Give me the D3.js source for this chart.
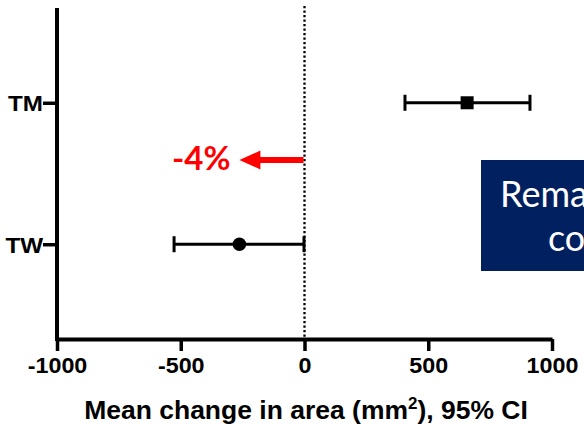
<!DOCTYPE html>
<html>
<head>
<meta charset="utf-8">
<script src="https://cdn.jsdelivr.net/npm/d3@7"></script>
<style>
  html, body { margin: 0; padding: 0; background: #fff; overflow: hidden; }
  svg { display: block; }
</style>
</head>
<body>
<svg id="chart" width="584" height="425"></svg>
<script>
// Groups and their mean change in area with 95% CI (mm²)
const groups = ["TM", "TW"];
const means = [657, -263];
const lowerCI = [406, -527];
const upperCI = [911, -2];
const markerShapes = ["square", "circle"];
const xTicks = [-1000, -500, 0, 500, 1000];
const xDomain = [-1000, 1000];
const changeLabel = "-4%";
const noteLines = ["Remained", "constant"];

const svg = d3.select("#chart");
const font = "'Liberation Sans', Arial, sans-serif";
const widen = 1.06; // slightly wider bold lettering for the axis text

const x = d3.scaleLinear().domain(xDomain).range([57, 552]);
const y = d3.scalePoint().domain(groups).range([8, 339]).padding(0.67);
const axisY = 339;

// Zero reference line
svg.append("line")
  .attr("x1", x(0)).attr("x2", x(0))
  .attr("y1", 6).attr("y2", axisY)
  .attr("stroke", "#000").attr("stroke-width", 2.3)
  .attr("stroke-dasharray", "2.3,2.2");

// X axis
const xAxis = svg.append("g")
  .attr("transform", `translate(0,${axisY})`)
  .call(d3.axisBottom(x).tickValues(xTicks).tickSize(12).tickSizeOuter(0).tickFormat(d3.format("d")));
xAxis.select(".domain").attr("stroke", "#000").attr("stroke-width", 4);
xAxis.selectAll(".tick line").attr("stroke", "#000").attr("stroke-width", 3.5);
xAxis.selectAll(".tick text")
  .attr("y", 0).attr("dy", 0)
  .attr("transform", `translate(0,34) scale(${widen},1)`)
  .style("font-family", font).style("font-weight", "bold").style("font-size", "22px")
  .attr("fill", "#000")
  .text(d => d < 0 ? "-" + Math.abs(d) : d);

// Y axis
const yAxis = svg.append("g")
  .attr("transform", `translate(${x(xDomain[0])},0)`)
  .call(d3.axisLeft(y).tickSize(14).tickSizeOuter(0));
yAxis.select(".domain").attr("stroke", "#000").attr("stroke-width", 4)
  .attr("d", `M0,8V${axisY + 2}`);
yAxis.selectAll(".tick line").attr("stroke", "#000").attr("stroke-width", 3.5);
yAxis.selectAll(".tick text")
  .attr("x", 0).attr("dy", "0.36em")
  .attr("transform", `translate(-14,0) scale(1.1,1)`)
  .style("font-family", font).style("font-weight", "bold").style("font-size", "22px")
  .attr("fill", "#000");

// Axis title
const title = svg.append("text")
  .attr("transform", `translate(306,419) scale(${widen},1)`)
  .attr("text-anchor", "middle")
  .style("font-family", font).style("font-weight", "bold").style("font-size", "25px")
  .attr("fill", "#000");
title.append("tspan").text("Mean change in area (mm");
title.append("tspan").text("2").attr("dy", -10).style("font-size", "16px");
title.append("tspan").text("), 95% CI").attr("dy", 10);

// Error bars and means
const rows = groups.map((g, i) => ({ g, mean: means[i], lo: lowerCI[i], hi: upperCI[i], shape: markerShapes[i] }));
const bars = svg.append("g").selectAll("g").data(rows).join("g")
  .attr("transform", d => `translate(0,${y(d.g)})`);
bars.append("line")
  .attr("x1", d => x(d.lo)).attr("x2", d => x(d.hi))
  .attr("stroke", "#000").attr("stroke-width", 3);
bars.selectAll("line.cap").data(d => [d.lo, d.hi]).join("line")
  .attr("class", "cap")
  .attr("x1", v => x(v)).attr("x2", v => x(v))
  .attr("y1", -8).attr("y2", 8)
  .attr("stroke", "#000").attr("stroke-width", 3);
bars.each(function(d) {
  const g = d3.select(this);
  if (d.shape === "square") {
    g.append("rect").attr("x", x(d.mean) - 6.5).attr("y", -6.5)
      .attr("width", 13).attr("height", 13).attr("fill", "#000");
  } else {
    g.append("circle").attr("cx", x(d.mean)).attr("r", 6.8).attr("fill", "#000");
  }
});

// Red arrow: from zero to the TW mean, with its percentage label
const arrowY = 160;
const tipX = x(means[1]);
const headLen = 21, headHalf = 9.5, shaft = 3;
svg.append("path")
  .attr("d", `M${x(0) - 1},${arrowY - shaft}H${tipX + headLen}V${arrowY - headHalf}L${tipX},${arrowY}L${tipX + headLen},${arrowY + headHalf}V${arrowY + shaft}H${x(0) - 1}Z`)
  .attr("fill", "#ff0000");
svg.append("text")
  .attr("x", 172).attr("y", 170)
  .style("font-family", "Lato, 'Open Sans', sans-serif").style("font-weight", "bold").style("font-size", "33px")
  .attr("fill", "#ff0000")
  .text(changeLabel);

// Note box at the right edge
svg.append("rect")
  .attr("x", 481).attr("y", 160).attr("width", 140).attr("height", 111)
  .attr("fill", "#002060");
svg.append("text")
  .attr("x", 500).attr("y", 207)
  .style("font-family", "Lato, 'Open Sans', sans-serif").style("font-size", "36px")
  .attr("fill", "#fff").text(noteLines[0]);
svg.append("text")
  .attr("x", 548).attr("y", 251)
  .style("font-family", "Lato, 'Open Sans', sans-serif").style("font-size", "36px")
  .attr("fill", "#fff").text(noteLines[1]);
</script>
</body>
</html>
